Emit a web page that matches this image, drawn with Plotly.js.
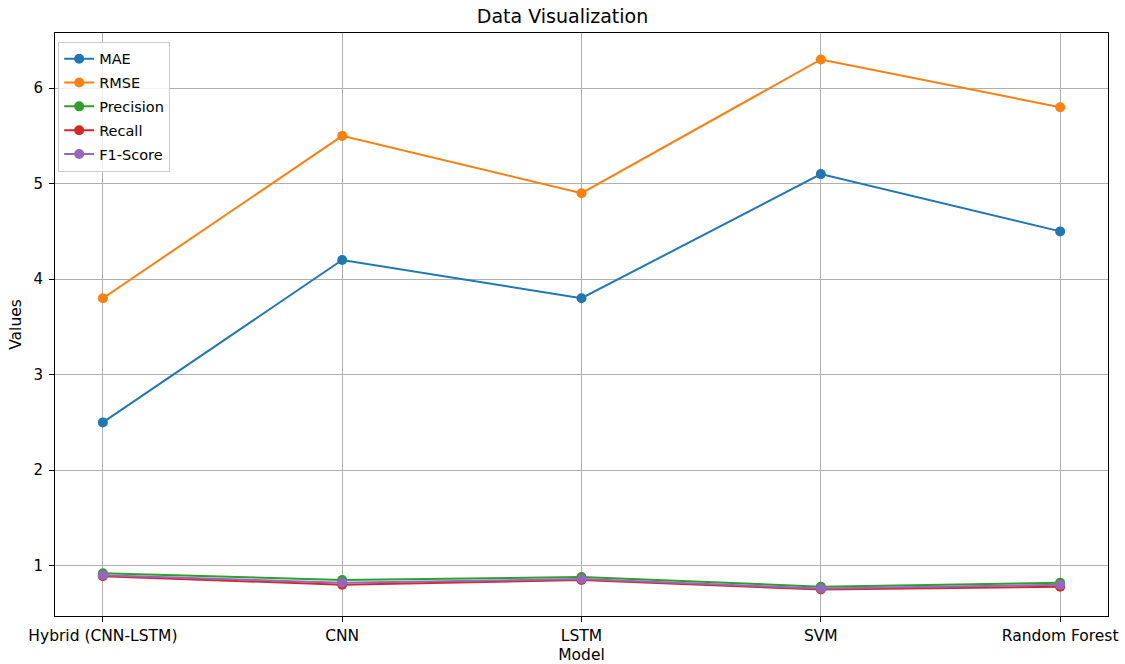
<!DOCTYPE html>
<html><head><meta charset="utf-8">
<script src="https://cdn.plot.ly/plotly-3.0.1.min.js"></script>
<style>html,body{margin:0;padding:0;background:#fff}#c{width:1125px;height:664px}</style>
</head><body><div id="c"></div>
<script>
const models = ["Hybrid (CNN-LSTM)", "CNN", "LSTM", "SVM", "Random Forest"];
const mae = [2.5, 4.2, 3.8, 5.1, 4.5];
const rmse = [3.8, 5.5, 4.9, 6.3, 5.8];
const precision = [0.92, 0.85, 0.88, 0.78, 0.82];
const recall = [0.89, 0.80, 0.85, 0.75, 0.78];
const f1 = [0.90, 0.82, 0.86, 0.76, 0.80];

const names = ["MAE", "RMSE", "Precision", "Recall", "F1-Score"];
const series = [mae, rmse, precision, recall, f1];
const colors = ["#1f77b4", "#ff7f0e", "#2ca02c", "#d62728", "#9467bd"];

const traces = series.map((s, i) => ({
  x: models.map((m, j) => j), y: s, name: names[i], legendgroup: names[i],
  type: "scatter", mode: "lines+markers",
  line: {color: colors[i], width: 2}, marker: {color: colors[i], size: 10}
}));

const layout = {
  width: 1125, height: 664,
  margin: {l: 55, r: 16.5, t: 33, b: 48},
  paper_bgcolor: "#fff", plot_bgcolor: "#fff",
  font: {family: "DejaVu Sans", color: "#000", size: 15},
  title: {text: "Data Visualization", font: {size: 19}, x: 0.5, xanchor: "center", y: 0.975, yanchor: "middle"},
  xaxis: {
    range: [-0.2, 4.2], tickmode: "array", tickvals: models.map((m, j) => j), ticktext: models,
    showgrid: true, gridcolor: "#b0b0b0", gridwidth: 1, zeroline: false,
    showline: true, linecolor: "#000", linewidth: 1, mirror: true,
    ticks: "outside", ticklen: 5, tickcolor: "#000", tickfont: {size: 15.5},
    title: {text: "Model", font: {size: 15.5}, standoff: 8}
  },
  yaxis: {
    range: [0.4725, 6.5775], tickvals: [1, 2, 3, 4, 5, 6],
    showgrid: true, gridcolor: "#b0b0b0", gridwidth: 1, zeroline: false,
    showline: true, linecolor: "#000", linewidth: 1, mirror: true,
    ticks: "outside", ticklen: 5, tickcolor: "#000", tickfont: {size: 15}, ticklabelstandoff: 3,
    title: {text: "Values", font: {size: 15.5}, standoff: 8}
  },
  legend: {x: 0.003, y: 0.985, xanchor: "left", yanchor: "top", bgcolor: "rgba(255,255,255,0.8)",
    bordercolor: "#cccccc", borderwidth: 1, font: {size: 14.5}, traceorder: "grouped", tracegroupgap: 2}
};
Plotly.newPlot("c", traces, layout, {displayModeBar: false});
</script></body></html>
